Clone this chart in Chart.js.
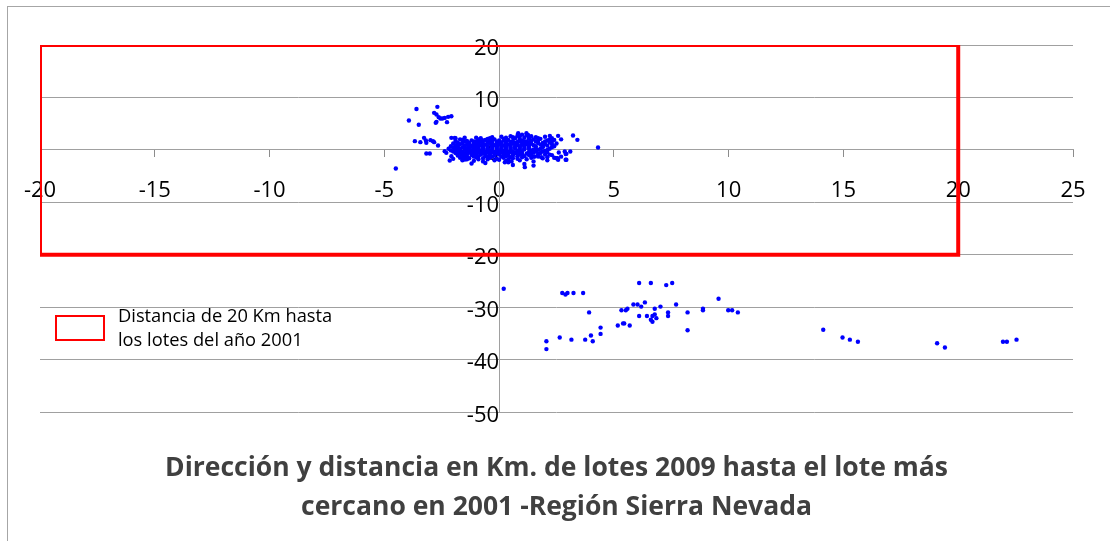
<!DOCTYPE html>
<html>
<head>
<meta charset="utf-8">
<script src="https://cdn.jsdelivr.net/npm/chart.js@4.4.1/dist/chart.umd.min.js"></script>
<style>
  html, body { margin: 0; padding: 0; background: #ffffff; }
  #wrap { width: 1110px; height: 541px; }
</style>
</head>
<body>
<div id="wrap"><canvas id="c" width="1110" height="541"></canvas></div>
<script>
// ---- Data (km, x = east/west, y = north/south) ----
const titleLines = ['Dirección y distancia en Km. de lotes 2009 hasta el lote más', 'cercano en 2001 -Región Sierra Nevada'];
const legendLines = ['Distancia de 20 Km hasta', 'los lotes del año 2001'];

const rectX = [-20, -20, 20, 20, -20];
const rectY = [-20, 20, 20, -20, -20];

const xMin = -20, xMax = 25, xStep = 5;
const yMin = -50, yMax = 20, yStep = 10;

const northWestPts = [
  [-3.6, 7.8], [-3.93, 5.6], [-3.5, 4.8], [-2.69, 8.2],
  [-2.83, 7.06], [-2.73, 6.74], [-2.63, 6.24], [-2.56, 5.97],
  [-2.47, 5.97], [-2.37, 6.1], [-2.22, 6.3], [-2.08, 6.4],
  [-2.73, 5.34], [-2.76, 5.15], [-2.27, 5.28],
  [-3.67, 1.66], [-3.43, 1.47], [-3.27, 2.29], [-3.19, 1.78], [-3.17, 1.34],
  [-2.99, 1.85], [-2.88, 1.66], [-2.83, 1.47], [-2.66, 0.82],
  [-3.17, -0.7], [-3.02, -0.7], [-2.08, 2.29], [-1.93, 2.29],
  [-2.37, -0.25], [-2.30, -0.57], [-2.08, -1.2], [-2.0, -1.72], [-2.15, -2.04],
  [-1.64, -0.9], [-1.57, -1.53], [-1.49, -1.85], [-4.5, -3.57]
];

const eastPts = [
  [4.31, 0.44], [3.22, 2.73], [3.41, 1.91], [2.57, 2.67], [2.21, 2.67],
  [2.86, -0.32], [2.93, -0.76], [2.93, -1.9], [2.57, -1.9], [2.54, -1.6],
  [2.1, -1.4], [2.2, -0.9], [1.84, -1.4], [1.70, -1.28], [1.55, -1.28],
  [0.83, 3.18], [1.19, 3.18], [1.26, 2.86]
];

const centerPts = [
  [-0.3, 2.4], [0.1, 2.5], [0.5, 2.6], [0.8, 2.7], [1.0, 2.9], [1.2, 2.8], [1.4, 2.6], [1.6, 2.4], [2.0, 2.5], [2.3, 2.2], [-0.8, 2.2], [-1.5, 2.3], [-1.9, 2.2],
  [-1.6, 1.9], [-1.2, 1.8], [-0.9, 2.0], [-0.6, 1.9], [-0.2, 2.0], [0.2, 2.1], [0.4, 1.9], [0.7, 2.2], [0.9, 2.0], [1.1, 2.3], [1.3, 2.1], [1.5, 2.0], [1.8, 2.1], [2.1, 1.8], [2.4, 1.9], [2.7, 2.0], [-0.4, 2.2], [0.0, 1.8],
  [-1.8, 1.4], [-1.5, 1.6], [-1.3, 1.3], [-1.0, 1.5], [-0.8, 1.6], [-0.5, 1.4], [-0.3, 1.7], [-0.1, 1.5], [0.1, 1.4], [0.3, 1.6], [0.5, 1.5], [0.7, 1.3], [0.9, 1.7], [1.1, 1.5], [1.3, 1.4], [1.6, 1.6], [1.9, 1.3], [2.2, 1.4], [2.5, 1.2],
  [-1.9, 0.9], [-1.7, 1.1], [-1.4, 1.0], [-1.2, 0.8], [-1.0, 1.1], [-0.8, 0.9], [-0.6, 1.0], [-0.4, 1.2], [-0.2, 0.9], [0.0, 1.1], [0.2, 0.8], [0.4, 1.0], [0.6, 1.2], [0.8, 0.9], [1.0, 1.0], [1.2, 1.1], [1.5, 0.9], [1.8, 1.0], [2.1, 0.8], [2.4, 0.7],
  [-2.0, 0.4], [-1.8, 0.6], [-1.6, 0.5], [-1.4, 0.3], [-1.2, 0.6], [-1.0, 0.4], [-0.9, 0.6], [-0.7, 0.5], [-0.5, 0.3], [-0.3, 0.6], [-0.1, 0.4], [0.1, 0.6], [0.3, 0.4], [0.5, 0.5], [0.7, 0.7], [0.9, 0.4], [1.1, 0.6], [1.3, 0.5], [1.6, 0.3], [1.9, 0.5], [2.2, 0.2],
  [-2.1, -0.1], [-1.9, 0.1], [-1.7, -0.2], [-1.5, 0.0], [-1.3, 0.1], [-1.1, -0.1], [-0.9, 0.1], [-0.7, -0.1], [-0.5, 0.0], [-0.3, 0.2], [-0.1, -0.1], [0.1, 0.1], [0.3, -0.2], [0.5, 0.0], [0.7, 0.2], [0.9, -0.1], [1.1, 0.1], [1.4, -0.1], [1.7, 0.0], [2.0, -0.2],
  [-1.9, -0.6], [-1.7, -0.4], [-1.5, -0.7], [-1.3, -0.5], [-1.1, -0.6], [-0.9, -0.4], [-0.7, -0.7], [-0.5, -0.5], [-0.3, -0.4], [-0.1, -0.6], [0.1, -0.5], [0.3, -0.7], [0.5, -0.4], [0.7, -0.6], [0.9, -0.5], [1.2, -0.7], [1.5, -0.5], [1.8, -0.6], [2.1, -0.4],
  [-1.8, -1.1], [-1.6, -0.9], [-1.4, -1.2], [-1.2, -1.0], [-1.0, -1.1], [-0.8, -0.9], [-0.6, -1.2], [-0.4, -1.0], [-0.2, -1.1], [0.0, -0.9], [0.2, -1.2], [0.4, -1.0], [0.6, -1.1], [0.9, -0.9], [1.3, -1.0], [1.7, -1.1], [2.0, -0.9], [2.3, -1.0],
  [-1.7, -1.5], [-1.3, -1.6], [-1.0, -1.4], [-0.7, -1.6], [-0.4, -1.5], [-0.1, -1.7], [0.2, -1.5], [0.6, -1.6], [1.0, -1.4], [1.4, -1.5], [1.9, -1.6], [2.4, -1.5],
  [-1.6, -2.0], [-1.1, -2.1], [-0.7, -2.2], [-0.2, -2.0], [0.3, -2.1], [0.9, -2.0], [1.5, -2.2], [2.1, -2.0],
  [-1.2, -2.6], [-0.6, -2.5], [0.6, -2.9], [1.1, -2.7], [1.5, -3.0], [2.7, -1.3], [2.6, -0.5], [2.9, -0.8], [3.1, -0.3], [2.9, -1.9], [2.5, -1.6],
  [0.4, -2.35], [0.25, -2.35], [0.54, -2.2], [1.12, -3.3]
];

const coreExtraPts = [
  [-1.7, 2.0], [-1.0, 2.3], [-0.5, 2.1], [0.3, 2.3], [0.6, 2.4], [0.9, 2.5], [1.3, 2.5], [1.7, 2.2], [2.2, 2.0],
  [-1.9, 1.7], [-1.4, 1.7], [-1.1, 1.6], [-0.7, 1.8], [-0.4, 1.6], [0.0, 1.6], [0.2, 1.8], [0.6, 1.7], [0.8, 1.5], [1.0, 1.8], [1.2, 1.6], [1.4, 1.8], [1.7, 1.8], [2.0, 1.6], [2.3, 1.6],
  [-2.0, 1.2], [-1.6, 1.3], [-1.1, 1.2], [-0.9, 1.3], [-0.7, 1.2], [-0.3, 1.3], [-0.1, 1.2], [0.1, 1.2], [0.3, 1.2], [0.5, 1.3], [0.8, 1.2], [1.0, 1.3], [1.4, 1.2], [1.7, 1.3], [2.0, 1.1], [2.3, 1.1],
  [-2.1, 0.7], [-1.8, 0.8], [-1.5, 0.8], [-1.3, 0.7], [-1.1, 0.9], [-0.9, 0.8], [-0.7, 0.8], [-0.5, 0.7], [-0.3, 0.9], [-0.1, 0.7], [0.1, 0.9], [0.3, 0.7], [0.5, 0.8], [0.7, 1.0], [0.9, 0.7], [1.1, 0.8], [1.3, 0.8], [1.6, 0.7], [1.9, 0.7], [2.3, 0.5],
  [-2.2, 0.2], [-1.9, 0.3], [-1.7, 0.2], [-1.5, 0.3], [-1.3, 0.3], [-1.1, 0.2], [-0.9, 0.3], [-0.7, 0.3], [-0.5, 0.2], [-0.3, 0.4], [-0.1, 0.2], [0.1, 0.3], [0.3, 0.1], [0.5, 0.3], [0.7, 0.4], [0.9, 0.2], [1.1, 0.3], [1.3, 0.2], [1.5, 0.1], [1.8, 0.2], [2.1, 0.0],
  [-2.0, -0.3], [-1.8, -0.2], [-1.6, -0.4], [-1.4, -0.3], [-1.2, -0.2], [-1.0, -0.3], [-0.8, -0.2], [-0.6, -0.3], [-0.4, -0.2], [-0.2, -0.4], [0.0, -0.3], [0.2, -0.2], [0.4, -0.4], [0.6, -0.3], [0.8, -0.2], [1.0, -0.3], [1.3, -0.4], [1.6, -0.3], [1.9, -0.3],
  [-1.8, -0.8], [-1.6, -0.7], [-1.4, -0.8], [-1.2, -0.7], [-1.0, -0.8], [-0.8, -0.7], [-0.6, -0.8], [-0.4, -0.7], [-0.2, -0.8], [0.0, -0.7], [0.2, -0.8], [0.4, -0.7], [0.6, -0.8], [0.8, -0.7], [1.0, -0.8], [1.4, -0.8], [1.7, -0.8],
  [-1.5, -1.3], [-1.1, -1.3], [-0.9, -1.2], [-0.5, -1.3], [-0.3, -1.3], [0.1, -1.3], [0.3, -1.2], [0.5, -1.4], [0.8, -1.2], [1.1, -1.2], [1.5, -1.3],
  [-1.4, -1.8], [-0.9, -1.8], [-0.5, -1.8], [0.0, -1.9], [0.4, -1.8], [0.8, -1.7], [1.2, -1.8]
];

const southPts = [
  [0.2, -26.5],
  [2.75, -27.3], [2.89, -27.6], [2.98, -27.3], [3.24, -27.3], [3.66, -27.3],
  [3.92, -31.0], [2.06, -36.5], [2.06, -38.0], [2.64, -35.8], [3.15, -36.2],
  [3.75, -36.2], [4.0, -35.4], [4.08, -36.5], [4.42, -33.9], [4.42, -35.1],
  [5.17, -33.5], [5.40, -33.1], [5.45, -33.1], [5.69, -33.5],
  [5.33, -30.6], [5.52, -30.6], [5.59, -30.3],
  [5.85, -29.5], [6.03, -29.5], [6.19, -29.9], [6.35, -29.1],
  [6.10, -25.4], [6.61, -25.4], [7.28, -25.8], [7.54, -25.4],
  [6.10, -31.7], [6.44, -31.7], [6.61, -32.4], [6.68, -32.8], [6.68, -31.7], [6.78, -31.4], [6.85, -32.1],
  [6.78, -30.3], [7.03, -29.9], [7.36, -31.0], [7.36, -31.7], [7.71, -29.5],
  [8.21, -31.0], [8.21, -34.4], [8.88, -30.3], [8.88, -30.6], [9.56, -28.4],
  [9.98, -30.6], [10.15, -30.6], [10.4, -31.0],
  [14.12, -34.3], [14.96, -35.8], [15.28, -36.2], [15.63, -36.6],
  [19.08, -36.9], [19.42, -37.7], [21.95, -36.6], [22.12, -36.6], [22.54, -36.2]
];

// ---- Build chart ----
const toXY = arr => arr.map(p => ({ x: p[0], y: p[1] }));
const allPts = [].concat(toXY(northWestPts), toXY(centerPts), toXY(coreExtraPts), toXY(eastPts), toXY(southPts));
const rectData = rectX.map((x, i) => ({ x: x, y: rectY[i] }));

const FONT = '"Open Sans", "DejaVu Sans", sans-serif';

const frameAndLegend = {
  id: 'frameAndLegend',
  beforeDraw(chart) {
    const ctx = chart.ctx;
    ctx.save();
    ctx.fillStyle = '#ffffff';
    ctx.fillRect(0, 0, chart.width, chart.height);
    ctx.strokeStyle = '#a6a6a6';
    ctx.lineWidth = 1;
    ctx.strokeRect(7.5, 6.5, chart.width + 10, chart.height + 10);
    ctx.restore();
  },
  afterDraw(chart) {
    const ctx = chart.ctx;
    const ds = chart.data.datasets[0];
    const a = chart.chartArea;
    const bx = a.left + 16, by = 316, bw = 48, bh = 24;
    ctx.save();
    ctx.strokeStyle = ds.borderColor;
    ctx.lineWidth = 2;
    ctx.strokeRect(bx, by, bw, bh);
    ctx.fillStyle = '#000000';
    ctx.font = '18.3px ' + FONT;
    ctx.textBaseline = 'alphabetic';
    ctx.textAlign = 'left';
    ds.label.forEach((line, i) => ctx.fillText(line, bx + 62, 322 + i * 24));
    ctx.restore();
  }
};

new Chart(document.getElementById('c'), {
  type: 'scatter',
  data: {
    datasets: [
      {
        label: legendLines,
        data: rectData,
        showLine: true,
        borderColor: '#ff0000',
        borderWidth: 4,
        pointRadius: 0,
        fill: false,
        order: 2
      },
      {
        label: 'Lotes 2009',
        data: allPts,
        pointRadius: 2.2,
        pointBackgroundColor: '#0000ff',
        pointBorderWidth: 0,
        borderColor: '#0000ff',
        order: 1
      }
    ]
  },
  options: {
    responsive: false,
    animation: false,
    devicePixelRatio: 1,
    layout: { padding: { left: 40, right: 37, top: 45, bottom: 0 } },
    plugins: {
      legend: { display: false },
      tooltip: { enabled: false },
      title: {
        display: true,
        position: 'bottom',
        text: titleLines,
        color: '#404040',
        font: { family: FONT, size: 26.5, weight: 'bold', lineHeight: 39 / 26.5 },
        padding: { top: 36.5, bottom: 14.5 }
      }
    },
    scales: {
      x: {
        type: 'linear',
        min: xMin, max: xMax,
        position: { y: 0 },
        grid: { drawOnChartArea: false, drawTicks: true, tickLength: 7, color: '#8c8c8c' },
        border: { display: true, color: '#a0a0a0', width: 1 },
        ticks: { stepSize: xStep, autoSkip: false, maxRotation: 0, color: '#000000', padding: 21, font: { family: FONT, size: 22 } }
      },
      y: {
        type: 'linear',
        min: yMin, max: yMax,
        position: { x: 0 },
        grid: { drawOnChartArea: true, drawTicks: true, tickLength: 8, color: '#a0a0a0' },
        border: { display: true, color: '#a0a0a0', width: 1 },
        ticks: { stepSize: yStep, autoSkip: false, color: '#000000', padding: 12, labelOffset: 3.5, font: { family: FONT, size: 22 } }
      }
    }
  },
  plugins: [frameAndLegend]
});
</script>
</body>
</html>
